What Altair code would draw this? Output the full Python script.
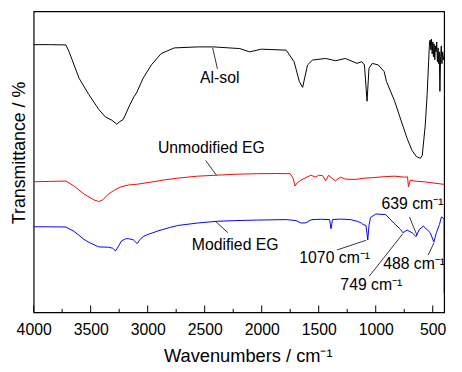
import altair as alt
import pandas as pd

# ---- data (wavenumber in cm-1, transmittance in arbitrary units) ----
alsol_wn = [4000, 3862, 3717, 3689, 3602, 3516, 3429, 3371, 3314, 3271, 3247, 3213, 3155, 3118, 3098,
            3040, 2968, 2881, 2766, 2564, 2420, 2192, 2106, 2002, 1785, 1716, 1670, 1641, 1598, 1554,
            1439, 1353, 1266, 1165, 1122, 1099, 1076, 1059, 1030, 978, 926, 906, 834, 791, 724, 681,
            644, 609, 592, 566, 549, 536, 528, 522, 516, 511, 505, 499, 494, 488, 482, 477, 471, 465,
            459, 453, 448, 443, 437, 431, 425, 419, 413, 406, 400]
alsol_t = [271.3, 271.3, 271, 264, 237.3, 220.7, 205.7, 198, 194.7, 190.7, 193, 195.7, 210.7, 219, 222.3,
           237.3, 250.7, 262.3, 268, 269, 269, 267.3, 264, 266.7, 265.7, 254, 234, 228, 250.7, 255.7,
           257.3, 255, 257.3, 252.3, 254, 250.7, 214, 247.3, 252.3, 250.7, 244, 234, 214, 199, 176, 164,
           158, 156, 159, 189, 221, 254, 274, 276, 266, 277, 262, 274, 259, 272, 256, 270, 264, 274,
           254, 268, 252, 264, 224, 259, 270, 252, 264, 256, 259]

unmod_wn = [4000, 3862, 3717, 3645, 3559, 3472, 3429, 3394, 3343, 3299, 3239, 3170, 3083, 2953, 2867,
            2737, 2564, 2391, 2218, 2045, 1872, 1751, 1725, 1708, 1690, 1656, 1612, 1569, 1526, 1500,
            1465, 1439, 1413, 1387, 1353, 1310, 1266, 1180, 1093, 1007, 920, 834, 747, 721, 713, 696,
            661, 574, 488, 400]
unmod_t = [132.3, 132.7, 133, 128, 120, 114, 112.3, 114, 120, 123.3, 127, 129, 130, 132.3, 134,
           136, 138, 139, 140, 140.5, 140.7, 140.5, 136, 128, 131, 134, 136.5, 139, 137, 139,
           138.5, 133.3, 139, 136, 133.3, 137, 135, 134.7, 136, 136.7, 137.5, 138, 137, 137.3, 127.3, 134,
           133, 132.3, 131, 129.7]

mod_wn = [4000, 3862, 3717, 3645, 3559, 3516, 3429, 3343, 3308, 3282, 3256, 3230, 3195, 3170, 3126,
          3092, 3066, 3040, 2997, 2953, 2910, 2867, 2806, 2737, 2564, 2391, 2218, 2045, 1785, 1699,
          1656, 1612, 1595, 1560, 1483, 1405, 1392, 1379, 1310, 1223, 1163, 1128, 1111, 1085, 1070,
          1059, 1046, 998, 912, 843, 782, 762, 724, 681, 646, 618, 583, 551, 522, 490, 467, 441,
          424, 411, 400, 400]
mod_t = [86.7, 86.7, 86.5, 82, 74, 71, 66.3, 66, 65, 62.3, 67, 72.3, 74.5, 74.7, 73.5,
         69.7, 74, 76.7, 79, 80.7, 82.5, 84, 86, 88, 90.5, 92.3, 93, 93.5, 94, 93,
         90.5, 90.7, 92, 94, 94.3, 94, 84.7, 94, 94.5, 94, 92.3, 90.7, 89, 88, 73.3,
         88, 96, 99.7, 99, 90.7, 84, 80.7, 83.3, 80.7, 76.7, 84, 87.3, 84, 80.7, 71.3, 81, 89,
         96.7, 96, 94, 19]

series_names = ["Al-sol", "Unmodified EG", "Modified EG"]
series_colors = ["#000000", "#ff0000", "#0000ff"]

label_text = ["Al-sol", "Unmodified EG", "Modified EG", "1070 cm⁻¹", "749 cm⁻¹", "639 cm⁻¹", "488 cm⁻¹"]
label_wn = [2541, 2910, 2613, 1670, 1310, 949, 935]
label_t = [237, 166, 68.5, 55, 28, 110, 49.3]

leader_wn1 = [2430, 2492, 2406, 1338, 1056, 704, 540]
leader_t1 = [268, 154, 92.3, 63.3, 36.7, 96.7, 58]
leader_wn2 = [2388, 2397, 2296, 1085, 762, 638, 488]
leader_t2 = [246.7, 139, 80.7, 73, 79.7, 78, 70.7]

major_ticks = [500, 1000, 1500, 2000, 2500, 3000, 3500, 4000]
minor_ticks = [750, 1250, 1750, 2250, 2750, 3250, 3750]

# ---- tables ----
rows = []
for name, wns, ts in zip(series_names, [alsol_wn, unmod_wn, mod_wn], [alsol_t, unmod_t, mod_t]):
    for i, (w, t) in enumerate(zip(wns, ts)):
        rows.append({"series": name, "wn": w, "T": t, "i": i})
spectra = pd.DataFrame(rows)
labels = pd.DataFrame({"text": label_text, "wn": label_wn, "T": label_t})
leaders = pd.DataFrame({"wn1": leader_wn1, "t1": leader_t1, "wn2": leader_wn2, "t2": leader_t2})
majors = pd.DataFrame({"wn": major_ticks})
minors = pd.DataFrame({"wn": minor_ticks})

FONT = "Liberation Sans, Arial, sans-serif"
W, H = 416, 305

xscale = alt.Scale(domain=[400, 4000], reverse=True, nice=False, zero=False)
yscale = alt.Scale(domain=[0, 305], nice=False, zero=False)

x_axis = alt.Axis(values=major_ticks, ticks=False, domain=False, grid=False, format="d",
                  labelFlush=False, labelOverlap=False, labelBound=False,
                  labelFontSize=16, labelFont=FONT, labelColor="black", labelPadding=9,
                  title="Wavenumbers / cm⁻¹", titleFont=FONT, titleFontSize=18.5,
                  titleFontWeight="normal", titleColor="black", titleX=217, titleY=50,
                  titleBaseline="alphabetic")
y_axis = alt.Axis(ticks=False, labels=False, domain=False, grid=False,
                  title="Transmittance / %", titleFont=FONT, titleFontSize=18,
                  titleFontWeight="normal", titleColor="black", titleX=-14, titleY=143,
                  titleBaseline="middle", titleAngle=270)

lines = alt.Chart(spectra).mark_line(strokeWidth=1, clip=True).encode(
    x=alt.X("wn:Q", scale=xscale, axis=x_axis),
    y=alt.Y("T:Q", scale=yscale, axis=y_axis),
    color=alt.Color("series:N", scale=alt.Scale(domain=series_names, range=series_colors), legend=None),
    order=alt.Order("i:Q"),
    detail="series:N",
)

lead = alt.Chart(leaders).mark_rule(color="black", strokeWidth=0.8).encode(
    x=alt.X("wn1:Q", scale=xscale), x2="wn2:Q",
    y=alt.Y("t1:Q", scale=yscale), y2="t2:Q",
)

txt = alt.Chart(labels).mark_text(align="left", baseline="middle", font=FONT, fontSize=16,
                                  color="black").encode(
    x=alt.X("wn:Q", scale=xscale), y=alt.Y("T:Q", scale=yscale), text="text:N",
)

major_r = alt.Chart(majors).mark_rule(color="black", strokeWidth=1).encode(
    x=alt.X("wn:Q", scale=xscale), y=alt.value(H), y2=alt.value(H - 7),
)
minor_r = alt.Chart(minors).mark_rule(color="black", strokeWidth=1).encode(
    x=alt.X("wn:Q", scale=xscale), y=alt.value(H), y2=alt.value(H - 3.5),
)

chart = alt.layer(lines, lead, txt, major_r, minor_r).properties(
    width=W, height=H,
    autosize=alt.AutoSizeParams(type="none"),
    padding={"left": 26, "top": 1, "right": 10, "bottom": 56},
    background="white",
).configure_view(stroke="black", strokeWidth=1.2)

chart.save("out.html", embed_options={"renderer": "svg", "actions": False})
